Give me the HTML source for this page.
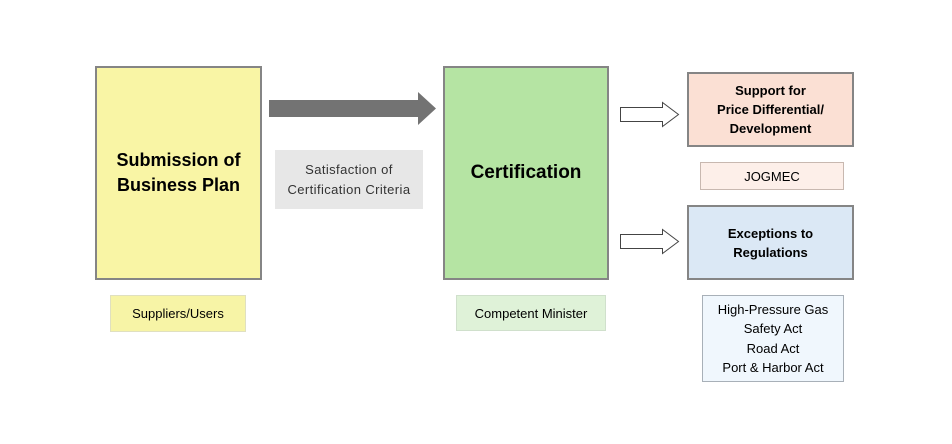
<!DOCTYPE html><html><head><style>
body{margin:0;width:952px;height:444px;background:#fff;position:relative;font-family:"Liberation Sans",sans-serif;overflow:hidden}
.b{position:absolute;box-sizing:border-box;display:flex;align-items:center;justify-content:center;text-align:center;color:#000}
</style></head><body>
<div class="b" style="left:95px;top:66px;width:167px;height:214px;background:#f9f5a5;border:2px solid #858585;font-weight:bold;font-size:18px;line-height:25px">Submission of<br>Business Plan</div>
<div class="b" style="left:443px;top:66px;width:166px;height:214px;background:#b5e4a3;border:2px solid #858585;font-weight:bold;font-size:19px">Certification</div>
<div class="b" style="left:275px;top:150px;width:148px;height:59px;background:#e7e7e7;font-size:13px;line-height:20px;letter-spacing:0.4px;color:#333">Satisfaction of<br>Certification Criteria</div>
<div class="b" style="left:110px;top:295px;width:136px;height:37px;background:#f7f4a6;border:1px solid #e0e0c0;font-size:13px">Suppliers/Users</div>
<div class="b" style="left:456px;top:295px;width:150px;height:36px;background:#dff2d8;border:1px solid #d0e0cc;font-size:13px">Competent Minister</div>
<div class="b" style="left:687px;top:72px;width:167px;height:75px;background:#fbe0d4;border:2px solid #858585;font-weight:bold;font-size:13px;line-height:19px">Support for<br>Price Differential/<br>Development</div>
<div class="b" style="left:700px;top:162px;width:144px;height:28px;background:#fdefe9;border:1px solid #c8b8b0;font-size:13px">JOGMEC</div>
<div class="b" style="left:687px;top:205px;width:167px;height:75px;background:#dbe8f5;border:2px solid #858585;font-weight:bold;font-size:13px;line-height:19px">Exceptions to<br>Regulations</div>
<div class="b" style="left:702px;top:295px;width:142px;height:87px;background:#f0f7fd;border:1px solid #a8b0b8;font-size:13px;line-height:19.5px">High-Pressure Gas<br>Safety Act<br>Road Act<br>Port &amp; Harbor Act</div>
<svg style="position:absolute;left:0;top:0" width="952" height="444">
<polygon points="269,100 418,100 418,92 436,108.5 418,125 418,117 269,117" fill="#737373"/>
<polygon points="620.5,107.5 662.5,107.5 662.5,102.5 678.5,114.5 662.5,126.5 662.5,121.5 620.5,121.5" fill="#fff" stroke="#444" stroke-width="1"/>
<polygon points="620.5,234.5 662.5,234.5 662.5,229.5 678.5,241.5 662.5,253.5 662.5,248.5 620.5,248.5" fill="#fff" stroke="#444" stroke-width="1"/>
</svg>
</body></html>
